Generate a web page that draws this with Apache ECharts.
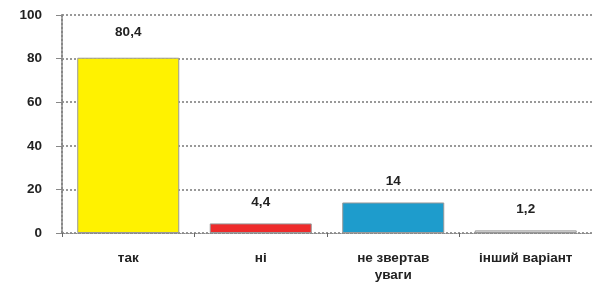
<!DOCTYPE html>
<html>
<head>
<meta charset="utf-8">
<script src="https://cdn.jsdelivr.net/npm/echarts@6/dist/echarts.min.js"></script>
<style>
  html, body { margin: 0; padding: 0; background: #fff; }
  #chart { width: 592px; height: 286px; }
</style>
</head>
<body>
<div id="chart"></div>
<script>
const categories = ['так', 'ні', 'не звертав\nуваги', 'інший варіант'];
const values = [80.4, 4.4, 14, 1.2];
const labels = ['80,4', '4,4', '14', '1,2'];
const barColors = ['#fff200', '#ee2b2b', '#1e9ccc', '#e4e4e4'];
const yTicks = [0, 20, 40, 60, 80, 100];

const chart = echarts.init(document.getElementById('chart'));
const font = { fontFamily: 'Liberation Sans, Arial, sans-serif', fontSize: 13.5, fontWeight: 'bold', color: '#222' };

chart.setOption({
  animation: false,
  grid: { left: 62, right: -3, top: 15, bottom: 53 },
  xAxis: {
    type: 'category',
    data: categories,
    axisLine: { show: true, lineStyle: { color: '#888', type: 'dotted', width: 1 } },
    axisTick: { show: true, length: 4, lineStyle: { color: '#666' } },
    axisLabel: Object.assign({ margin: 17, lineHeight: 17, interval: 0 }, font)
  },
  yAxis: {
    type: 'value',
    min: yTicks[0],
    max: yTicks[yTicks.length - 1],
    interval: 20,
    axisLine: { show: true, lineStyle: { color: '#888', type: 'dotted', width: 2 } },
    axisTick: { show: true, inside: false, length: 6, lineStyle: { color: '#888' } },
    splitLine: { show: true, lineStyle: { color: '#999', type: 'dotted', width: 2 } },
    axisLabel: Object.assign({ margin: 20 }, font)
  },
  series: [{
    type: 'bar',
    barWidth: '77%',
    data: values.map((v, i) => ({
      value: v,
      itemStyle: { color: barColors[i], borderColor: '#999', borderWidth: 1 },
      label: { formatter: labels[i], distance: i === 0 ? 18 : 14 }
    })),
    label: Object.assign({ show: true, position: 'top', distance: 14 }, font)
  }]
});
</script>
</body>
</html>
